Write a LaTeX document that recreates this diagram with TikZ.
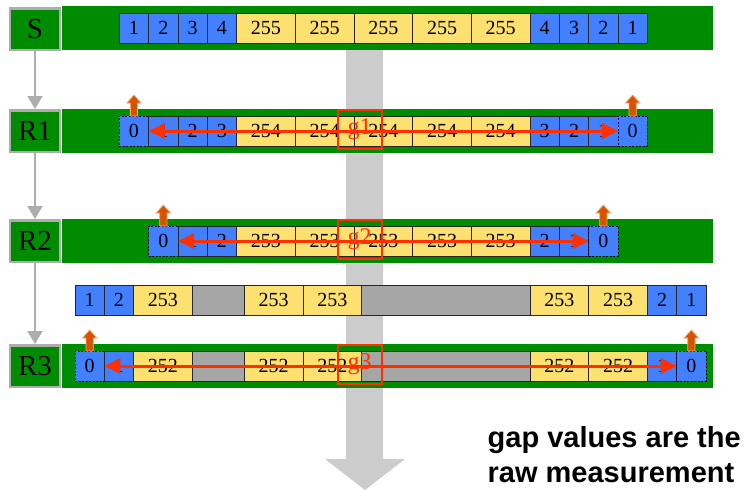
\documentclass[tikz,border=0pt]{standalone}
\usepackage{fontspec}
\setmainfont{Liberation Serif}
\newfontfamily\notefont{Liberation Sans}
\usetikzlibrary{positioning,arrows.meta}

\definecolor{bargreen}{RGB}{0,140,0}
\definecolor{cellblue}{RGB}{66,128,255}
\definecolor{cellyellow}{RGB}{252,224,112}
\definecolor{cellgray}{RGB}{166,166,166}
\definecolor{flowgray}{RGB}{204,204,204}
\definecolor{gapred}{RGB}{255,48,0}
\definecolor{flagorange}{RGB}{214,84,0}
\definecolor{flagrim}{RGB}{248,168,110}

% small up arrow sitting on top of a cell
\newcommand\flagup[1]{\draw[flag] (#1.north) ++(-3.6,0) -- ++(0,-13) -- ++(-3.6,0) -- ++(7.2,-8) -- ++(7.2,8) -- ++(-3.6,0) -- ++(0,13) -- cycle;}

\begin{document}
\begin{tikzpicture}[x=1pt,y=-1pt,
cell/.style={draw=black!85,line width=0.8pt,inner sep=0pt,outer sep=0pt,minimum height=30pt,font=\fontsize{20}{20}\selectfont},
bc/.style={cell,fill=cellblue,minimum width=29.33pt},
yc/.style={cell,fill=cellyellow,minimum width=58.67pt},
zc/.style={bc,draw=black!70!blue,dash pattern=on 2pt off 1.5pt},
gs/.style={cell,fill=cellgray,minimum width=52pt},
gl/.style={cell,fill=cellgray,minimum width=168.33pt},
router/.style={draw=black!32,line width=2.5pt,fill=bargreen,minimum width=50pt,minimum height=41.5pt,inner sep=0pt,font=\fontsize{29}{29}\selectfont},
gapbox/.style={draw=gapred,line width=2pt,minimum width=44pt,minimum height=39pt,inner sep=0pt,text=gapred,font=\fontsize{24}{24}\selectfont},
gaparrow/.style={gapred,line width=3pt,{Triangle[length=16pt,width=15pt]}-{Triangle[length=16pt,width=15pt]}},
hop/.style={black!32,line width=2pt,-{Triangle[length=13pt,width=15pt]}},
flag/.style={fill=flagorange,draw=flagrim,line width=0.8pt}
]
\useasboundingbox (0,0) rectangle (746,490);

% big flow arrow behind everything
\fill[flowgray] (346,40) -- (383,40) -- (383,459) -- (405,459) -- (365,490) -- (325,459) -- (346,459) -- cycle;

% link bars
\foreach \y in {28,131,241,366}
    \fill[bargreen] (62,\y-22) rectangle (713,\y+22);

% hops
\node[router] (S) at (35,29) {S};
\node[router] (R1) at (35,131) {R1};
\node[router] (R2) at (35,241) {R2};
\node[router] (R3) at (35,366) {R3};
\draw[hop] (S) -- (R1);
\draw[hop] (R1) -- (R2);
\draw[hop] (R2) -- (R3);

% packet train at the sender
\node[bc,anchor=west] (s1) at (119.33,28) {1};
\foreach \t/\k [count=\i from 2,remember=\i as \p (initially 1)] in
    {2/bc,3/bc,4/bc,255/yc,255/yc,255/yc,255/yc,255/yc,4/bc,3/bc,2/bc,1/bc}
    \node[\k,right=0pt of s\p] (s\i) {\t};

% after R1
\node[zc,anchor=west] (ra1) at (119.33,131) {0};
\foreach \t/\k [count=\i from 2,remember=\i as \p (initially 1)] in
    {1/bc,2/bc,3/bc,254/yc,254/yc,254/yc,254/yc,254/yc,3/bc,2/bc,1/bc,0/zc}
    \node[\k,right=0pt of ra\p] (ra\i) {\t};

% after R2
\node[zc,anchor=west] (rb1) at (148.67,241) {0};
\foreach \t/\k [count=\i from 2,remember=\i as \p (initially 1)] in
    {1/bc,2/bc,253/yc,253/yc,253/yc,253/yc,253/yc,2/bc,1/bc,0/zc}
    \node[\k,right=0pt of rb\p] (rb\i) {\t};

% stretched train between R2 and R3
\node[bc,anchor=west] (m1) at (75,300) {1};
\foreach \t/\k [count=\i from 2,remember=\i as \p (initially 1)] in
    {2/bc,253/yc,{}/gs,253/yc,253/yc,{}/gl,253/yc,253/yc,2/bc,1/bc}
    \node[\k,right=0pt of m\p] (m\i) {\t};

% after R3
\node[zc,anchor=west] (rc1) at (75,366) {0};
\foreach \t/\k [count=\i from 2,remember=\i as \p (initially 1)] in
    {1/bc,252/yc,{}/gs,252/yc,252/yc,{}/gl,252/yc,252/yc,1/bc,0/zc}
    \node[\k,right=0pt of rc\p] (rc\i) {\t};

% gaps
\draw[gaparrow] (ra1.east) -- (ra13.west);
\draw[gaparrow] (rb1.east) -- (rb11.west);
\draw[gaparrow] (rc1.east) -- (rc11.west);
\node[gapbox] (g1) at (359.5,129) {g1};
\node[gapbox] (g2) at (359.5,239) {g2};
\node[gapbox] (g3) at (359.5,364) {g3};

\foreach \n in {ra1,ra13,rb1,rb11,rc1,rc11}
    {\flagup{\n}}

\node[anchor=north west,align=left,inner sep=0pt,font=\notefont\bfseries\fontsize{29}{35}\selectfont] (note) at (487.5,426) {gap values are the\\raw measurement};
\end{tikzpicture}
\end{document}
